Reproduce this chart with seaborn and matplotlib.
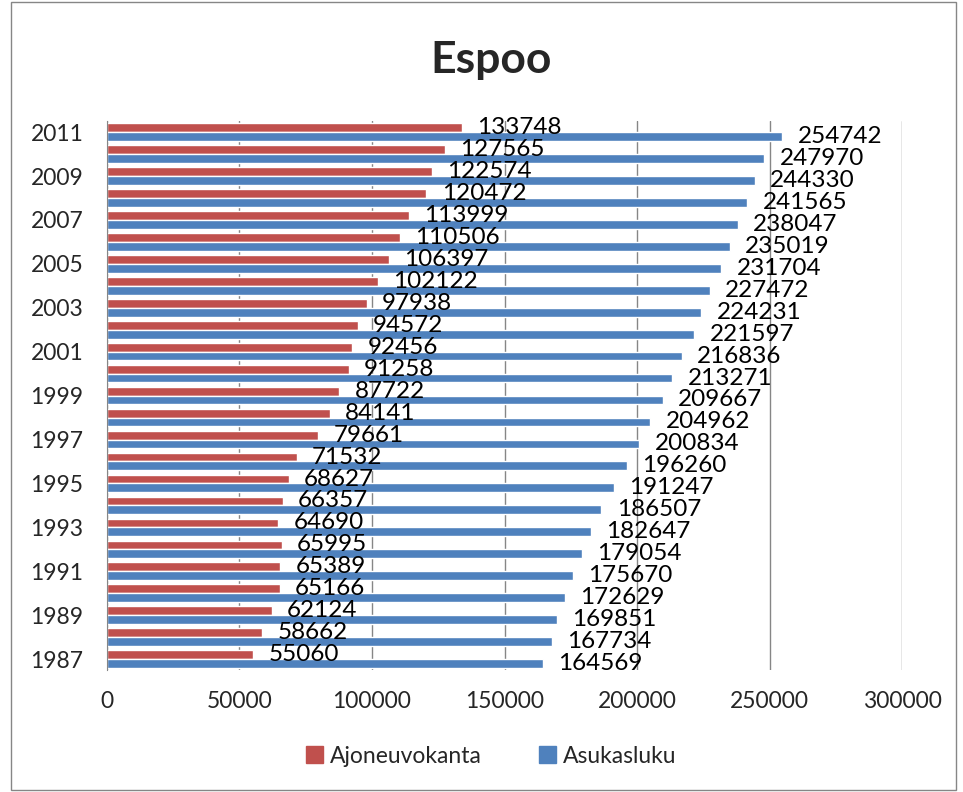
# Espoo: vehicles vs population 1987-2011 (horizontal grouped bars)

import pandas as pd
import matplotlib
matplotlib.use('Agg')
import matplotlib.pyplot as plt
import seaborn as sns
from matplotlib.patches import Rectangle, Patch

# 1. DATA

years = list(range(1987, 2012))

ajoneuvokanta = [55060, 58662, 62124, 65166, 65389, 65995, 64690, 66357, 68627, 71532,
                 79661, 84141, 87722, 91258, 92456, 94572, 97938, 102122, 106397, 110506,
                 113999, 120472, 122574, 127565, 133748]

asukasluku = [164569, 167734, 169851, 172629, 175670, 179054, 182647, 186507, 191247, 196260,
              200834, 204962, 209667, 213271, 216836, 221597, 224231, 227472, 231704, 235019,
              238047, 241565, 244330, 247970, 254742]

series_names = ['Ajoneuvokanta', 'Asukasluku']
colors = ['#C0504D', '#4F81BD']

# long format for seaborn
df = pd.DataFrame({'Year': years, 'Ajoneuvokanta': ajoneuvokanta, 'Asukasluku': asukasluku})
df = df.melt(id_vars='Year', var_name='Sarja', value_name='Arvo')
df['Year'] = df['Year'].astype(str)

# 2. PLOT

sns.set_style('white')
plt.rcParams['font.family'] = ['Lato', 'DejaVu Sans']

fig = plt.figure(figsize=(9.63, 7.92), dpi=100)
ax = fig.add_axes([0.111, 0.154, 0.826, 0.693])

year_order = [str(y) for y in reversed(years)]

sns.barplot(
    data=df,
    x='Arvo',
    y='Year',
    hue='Sarja',
    order=year_order,
    hue_order=series_names,
    palette=colors,
    orient='h',
    width=0.8,
    saturation=1,
    legend=False,
    ax=ax
)

# value labels (they crowd each other in the original too)
for container in ax.containers:
    ax.bar_label(container, padding=11, fontsize=17.5, color='black')

ax.set_xlim(0, 300000)
ax.set_xticks(range(0, 300001, 50000))
ax.xaxis.grid(True, color='#868686', linewidth=1)
ax.set_axisbelow(True)

# only every other year on the axis
ax.set_yticks(range(0, 25, 2))
ax.set_yticklabels(year_order[::2])

ax.tick_params(axis='x', length=0, pad=15, labelsize=16.5)
ax.tick_params(axis='y', length=0, pad=17, labelsize=16.5)
ax.set_xlabel('')
ax.set_ylabel('')

for side in ['top', 'right', 'bottom']:
    ax.spines[side].set_visible(False)
ax.spines['left'].set_color('#868686')

fig.text(0.51, 0.924, 'Espoo', ha='center', va='center', fontsize=32, fontweight='bold')

handles = [Patch(color=c, label=n) for c, n in zip(colors, series_names)]
fig.legend(handles=handles, loc='center', bbox_to_anchor=(0.51, 0.045), ncol=2,
           frameon=False, fontsize=16.5, handlelength=0.75, handleheight=0.75,
           handletextpad=0.3, columnspacing=2.5)

# outer chart frame
fig.patches.append(Rectangle((0.011, 0.003), 0.982, 0.994, transform=fig.transFigure,
                             fill=False, edgecolor='#868686', linewidth=1))

fig.savefig('out.png', dpi=100)
